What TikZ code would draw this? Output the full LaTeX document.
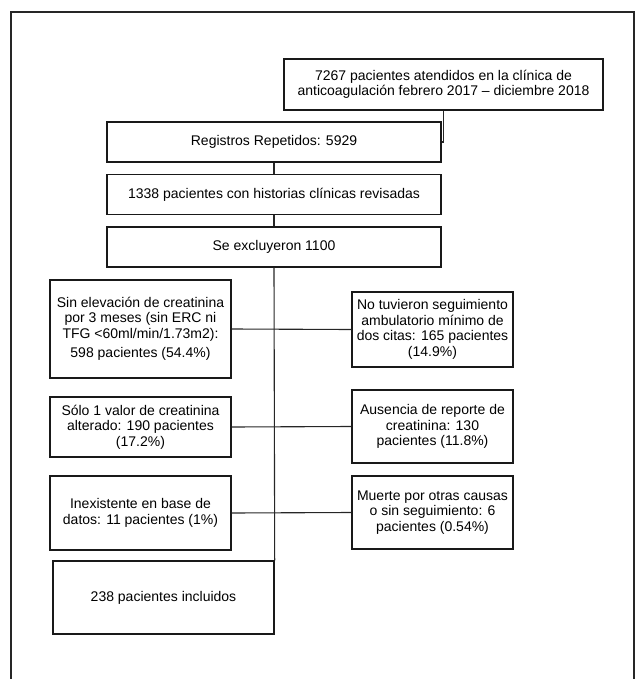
\documentclass[tikz,border=0pt]{standalone}
\usepackage{fontspec}
\setmainfont{Liberation Sans}
\usepackage{tikz}
\tikzset{>=latex}
\tikzset{caja/.style={draw=black!90, line width=1.4pt, align=center, inner sep=1pt,
    font=\fontsize{14}{15.5}\selectfont},
  linea/.style={draw=black!85, line width=1.1pt}}

\begin{document}
\begin{tikzpicture}[x=1pt,y=-1pt]
    \useasboundingbox (0,0) rectangle (640,679);
    % marco
    \draw[line width=2.6pt, black!85] (11,690) -- (11,12) -- (634,12) -- (634,690);
    \node[caja, minimum width=319, minimum height=51] (inicio) at (443.5,84.5)
        {7267 pacientes atendidos en la clínica de\\anticoagulación febrero 2017 \textendash{} diciembre 2018};
    \node[caja, minimum width=334, minimum height=40] (repetidos) at (274,142) {Registros Repetidos: 5929};
    \node[caja, minimum width=334, minimum height=40] (revisadas) at (274,194.5) {1338 pacientes con historias clínicas revisadas};
    \node[caja, minimum width=334, minimum height=40] (excluidos) at (274,247) {Se excluyeron 1100};
 %   izquierda
    \node[caja, minimum width=181, minimum height=98] (sinelev) at (140.5,329)
        {Sin elevación de creatinina\\por 3 meses (sin ERC ni\\TFG <60ml/min/1.73m2):\\[4pt]598 pacientes (54.4\%)};
    \node[caja, minimum width=181, minimum height=60] (unvalor) at (140.5,427)
        {Sólo 1 valor de creatinina\\alterado: 190 pacientes\\(17.2\%)};
    \node[caja, minimum width=181, minimum height=74] (inexist) at (140.5,513)
        {Inexistente en base de\\datos: 11 pacientes (1\%)};
    \node[caja, minimum width=221, minimum height=73] (incluidos) at (163.5,597.5) {238 pacientes incluidos};
 %   derecha
    \node[caja, minimum width=161, minimum height=75] (seguim) at (432.5,329.5)
        {No tuvieron seguimiento\\ambulatorio mínimo de\\dos citas: 165 pacientes\\(14.9\%)};
    \node[caja, minimum width=161, minimum height=73] (ausencia) at (432.5,426.5)
        {Ausencia de reporte de\\creatinina: 130\\pacientes (11.8\%)};
    \node[caja, minimum width=161, minimum height=73] (muerte) at (432.5,512.5)
        {Muerte por otras causas\\o sin seguimiento: 6\\pacientes (0.54\%)};
    % conectores
    \draw[linea] (inicio.south) |- (repetidos.east);
    \draw[linea] (repetidos) -- (revisadas);
    \draw[linea] (revisadas) -- (excluidos);
    \draw[linea] (excluidos.south) -- (incluidos.north east);
    \draw[linea] (sinelev.east) -- (seguim.west);
    \draw[linea] (unvalor.east) -- (ausencia.west);
    \draw[linea] (inexist.east) -- (muerte.west);
\end{tikzpicture}
\end{document}
